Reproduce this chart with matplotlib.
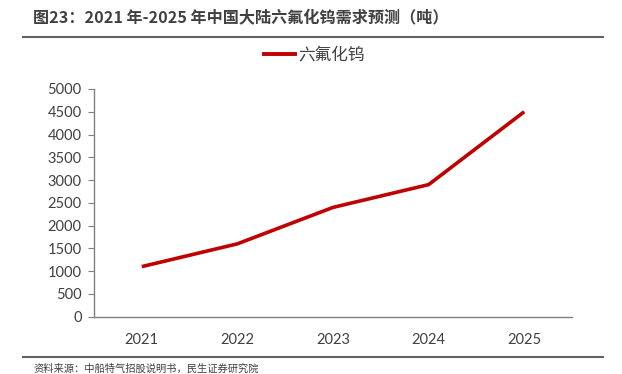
import matplotlib
matplotlib.use("Agg")
import matplotlib.pyplot as plt
from matplotlib.lines import Line2D

plt.rcParams['font.family'] = ['Noto Sans CJK SC', 'DejaVu Sans']

years = ['2021', '2022', '2023', '2024', '2025']
demand = [1100, 1600, 2400, 2900, 4500]
series_name = '六氟化钨'
title = '图23：2021 年-2025 年中国大陆六氟化钨需求预测（吨）'
source = '资料来源：中船特气招股说明书，民生证券研究院'
yticks = list(range(0, 5001, 500))

W, H = 622, 374
fig = plt.figure(figsize=(W/100, H/100), dpi=100)

ax = fig.add_axes([94/W, 1-316.7/H, (572-94)/W, (316.7-89)/H])
x = range(len(years))
ax.plot(x, demand, color='#C00000', lw=2.6, solid_capstyle='butt')
ax.set_xlim(-0.5, len(years)-0.5)
ax.set_ylim(0, 5000)
ax.set_yticks(yticks)
ax.set_xticks(list(x))
ax.set_xticklabels(years)
for s in ['top', 'right']:
    ax.spines[s].set_visible(False)
for s in ['left', 'bottom']:
    ax.spines[s].set_color('#808080')
    ax.spines[s].set_linewidth(1.0)
ax.tick_params(axis='y', length=4, color='#808080', labelsize=10.5, labelcolor='#404040', pad=5, direction='out')
ax.tick_params(axis='x', length=0, labelsize=10.5, labelcolor='#404040', pad=12)
for lab in ax.get_xticklabels() + ax.get_yticklabels():
    lab.set_family(['Lato', 'DejaVu Sans'])

handle = Line2D([0], [0], color='#C00000', lw=2.8)
fig.legend([handle], [series_name], loc='center', bbox_to_anchor=(314/W, 1-55/H),
           frameon=False, fontsize=12, handlelength=1.9, handletextpad=0.15,
           labelcolor='#404040')

fig.text(33/W, 1-18/H, title, fontsize=11.6, fontweight='bold', color='#404040', va='center', ha='left')
fig.add_artist(Line2D([23/W, 603/W], [1-37/H, 1-37/H], color='#606060', lw=1.5))
fig.add_artist(Line2D([23/W, 603/W], [1-357/H, 1-357/H], color='#606060', lw=1.5))
fig.text(33/W, 1-369/H, source, fontsize=7.4, color='#404040', va='center', ha='left')

fig.savefig('out.png', dpi=100)
